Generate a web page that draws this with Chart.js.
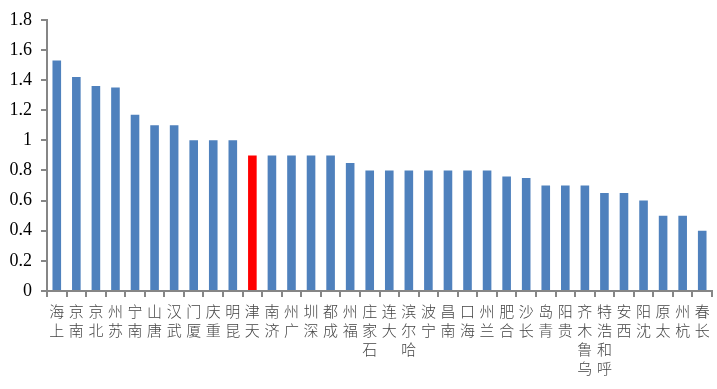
<!DOCTYPE html>
<html><head><meta charset="utf-8">
<script src="https://cdn.jsdelivr.net/npm/chart.js@4.4.1/dist/chart.umd.min.js"></script>
<style>html,body{margin:0;padding:0;background:#fff}#wrap{width:717px;height:389px}</style>
</head><body><div id="wrap"><canvas id="c" width="717" height="389"></canvas></div>
<script>
const categories = ["上海","南京","北京","苏州","南宁","唐山","武汉","厦门","重庆","昆明","天津","济南","广州","深圳","成都","福州","石家庄","大连","哈尔滨","宁波","南昌","海口","兰州","合肥","长沙","青岛","贵阳","乌鲁木齐","呼和浩特","西安","沈阳","太原","杭州","长春"];
const values = [1.53,1.42,1.36,1.35,1.17,1.10,1.10,1.00,1.00,1.00,0.90,0.90,0.90,0.90,0.90,0.85,0.80,0.80,0.80,0.80,0.80,0.80,0.80,0.76,0.75,0.70,0.70,0.70,0.65,0.65,0.60,0.50,0.50,0.40];
const highlight = "天津";
const yTicks = [0,0.2,0.4,0.6,0.8,1.0,1.2,1.4,1.6,1.8];

const labels = categories.map(s => Array.from(s).reverse());
const colors = categories.map(c => c === highlight ? "#FF0000" : "#4F81BD");
const axisColor = "#868686";

new Chart(document.getElementById("c"), {
  type: "bar",
  data: { labels: labels, datasets: [{ data: values, backgroundColor: colors, barPercentage: 0.44, categoryPercentage: 1.0 }] },
  options: {
    responsive: false, animation: false,
    layout: { padding: { left: 0, right: 5, top: 14, bottom: 0 } },
    plugins: { legend: { display: false }, tooltip: { enabled: false } },
    scales: {
      x: {
        grid: { display: true, drawOnChartArea: false, offset: true, color: axisColor, tickLength: 6, lineWidth: 2 },
        border: { color: axisColor, width: 2 },
        ticks: { autoSkip: false, maxRotation: 0, minRotation: 0, padding: 5, color: "#444",
                 font: { family: "'Noto Sans CJK SC'", size: 15, weight: 300, lineHeight: 1.27 } },
        afterFit: s => { s.height = 98; }
      },
      y: {
        min: 0, max: 1.8,
        afterBuildTicks: s => { s.ticks = yTicks.map(v => ({ value: v })); },
        grid: { display: true, drawOnChartArea: false, color: axisColor, tickLength: 6, lineWidth: 2 },
        border: { color: axisColor, width: 2 },
        ticks: { padding: 9, color: "#000", font: { family: "'Liberation Serif'", size: 18 },
                 callback: v => String(Math.round(v * 10) / 10) },
        afterFit: s => { s.width = 47; }
      }
    }
  }
});
</script></body></html>
